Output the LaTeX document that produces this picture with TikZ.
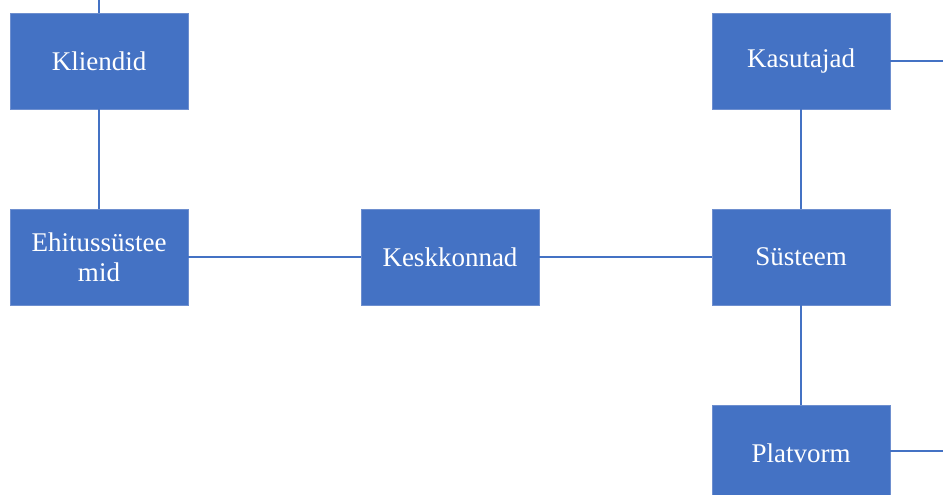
\documentclass[tikz,border=0pt]{standalone}
\usepackage{fontspec}
\setmainfont{Liberation Serif}
\definecolor{boxblue}{HTML}{4472C4}
\definecolor{boxedge}{HTML}{6E8FCF}
\begin{document}
\begin{tikzpicture}[x=1pt,y=-1pt,
  box/.style={fill=boxblue,draw=boxedge,line width=0.8pt,minimum width=178pt,minimum height=96pt,inner sep=0pt,text=white,font=\fontsize{27}{30}\selectfont,align=center},
  link/.style={draw=boxblue,line width=1.5pt}]
\useasboundingbox (0,0) rectangle (943,495);
\node[box] (kl) at (99,61) {Kliendid};
\node[box] (eh) at (99,257) {Ehitussüstee\\mid};
\node[box] (ke) at (450,257) {Keskkonnad};
\node[box] (ka) at (801,61) {Kasutajad};
\node[box] (sy) at (801,257) {Süsteem};
\node[box] (pl) at (801,453) {Platvorm};
\coordinate (top) at (99,0);
\coordinate (kaR) at (943,61);
\coordinate (plR) at (943,451);
\draw[link] (top) -- (kl.north);
\draw[link] (kl) -- (eh);
\draw[link] (eh) -- (ke);
\draw[link] (ke) -- (sy);
\draw[link] (ka) -- (sy);
\draw[link] (sy) -- (pl);
\draw[link] (ka.east) -- (kaR);
\draw[link] (pl.east |- plR) -- (plR);
\end{tikzpicture}
\end{document}
